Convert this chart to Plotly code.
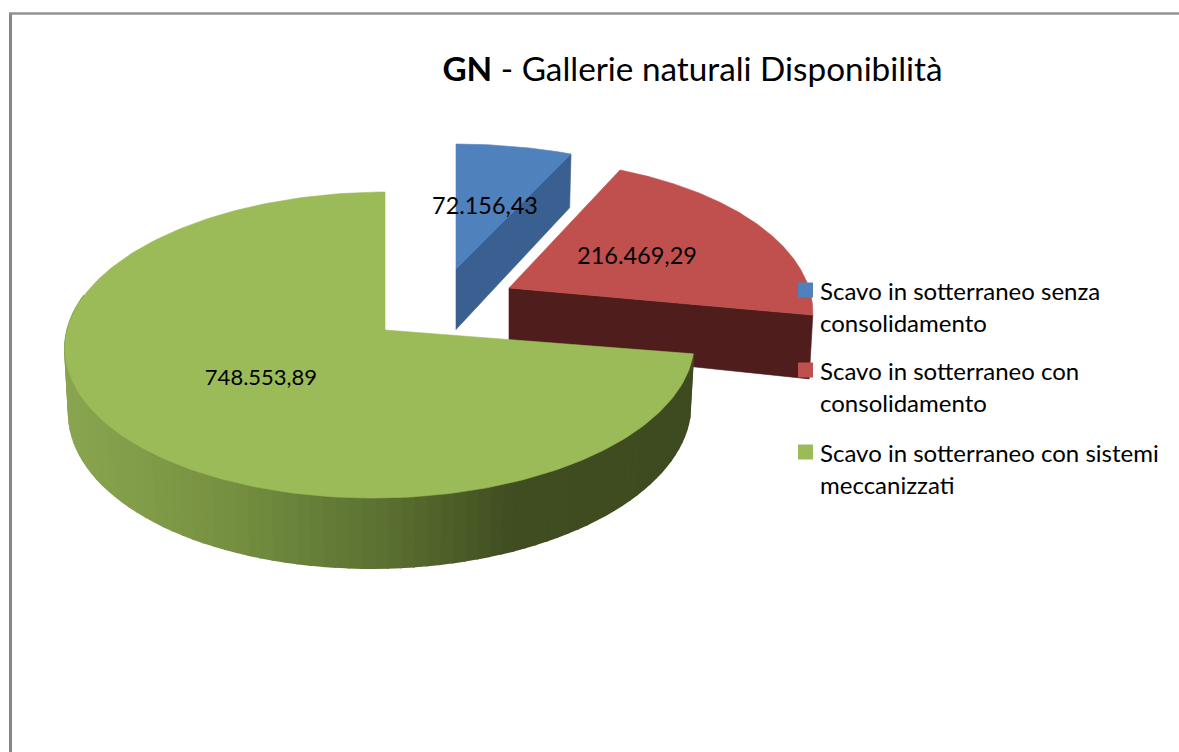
import numpy as np
import plotly.graph_objects as go

CATEGORIES = [
    ["Scavo in sotterraneo senza", "consolidamento"],
    ["Scavo in sotterraneo con", "consolidamento"],
    ["Scavo in sotterraneo con sistemi", "meccanizzati"],
]
VALUES = [72156.43, 216469.29, 748553.89]
TITLE_BOLD = "GN"
TITLE_REST = " - Gallerie naturali Disponibilità"

TOP_COLORS = ["#4f81bd", "#c0504d", "#9bbb59"]
SIDE_COLORS = ["#3a6092", "#4f1d1c", "#4f6128"]
FONT = "Lato"

# Projection of each exploded slice: apex position, radii, perspective, wall height
GEOM = [
    dict(cx=456, cy=269, a=319, k=149, p=0.192, r=0.0, m=0, h=63),
    dict(cx=509, cy=288, a=300, k=149, p=0.159, r=0.0, m=0, h=62),
    dict(cx=385, cy=330, a=313, k=151.5, p=0.098, r=0.017, m=3, h=63),
]
LABEL_POS = [(485, 208), (637, 258), (261, 379)]
LABEL_SIZE = [23.4, 23.5, 22]
LEGEND_X, LEGEND_Y = 805.5, [290, 370, 452]


def project(g, theta, drop=0.0):
    """theta: radians clockwise from 12 o'clock; drop: fraction of the wall height."""
    s, c = np.sin(theta), np.cos(theta)
    w = 1 + g["p"] * c + g["r"] * s
    x = g["cx"] + g["a"] * s / w
    y = g["cy"] - (g["k"] * c + g["m"] * s) / w
    wall = g["h"] / w
    x = g["cx"] + (x - g["cx"]) * (1 - 0.012 * drop)
    return x, y + wall * drop


def apex(g, drop=0.0):
    return g["cx"], g["cy"] + g["h"] * drop * 0.96


def poly(xs, ys, color, width=0.6):
    return go.Scatter(x=list(xs), y=list(ys), mode="lines", fill="toself", fillcolor=color,
                      line=dict(color=color, width=width), hoverinfo="skip", showlegend=False)


def fmt(v):
    return f"{v:,.2f}".replace(",", "#").replace(".", ",").replace("#", ".")


def shade(x):
    stops_x = [66, 140, 230, 300, 380, 450, 510, 700]
    stops = [(0x8a, 0xa5, 0x50), (0x82, 0x9d, 0x49), (0x76, 0x90, 0x41), (0x69, 0x82, 0x3a),
             (0x5c, 0x71, 0x32), (0x4e, 0x60, 0x29), (0x40, 0x4e, 0x21), (0x3e, 0x4b, 0x20)]
    rgb = [int(np.interp(x, stops_x, [st[i] for st in stops])) for i in range(3)]
    return f"rgb({rgb[0]},{rgb[1]},{rgb[2]})"


fractions = np.array(VALUES) / sum(VALUES)
edges = np.concatenate([[0], np.cumsum(fractions)]) * 2 * np.pi

fig = go.Figure()

for i in [0, 1, 2]:
    g = GEOM[i]
    t0, t1 = edges[i], edges[i + 1]
    th = np.linspace(t0, t1, 240)

    if i < 2:
        # cut face running from the apex out to the clockwise end of the slice
        ax0, ay0 = apex(g)
        ax1, ay1 = apex(g, 1)
        ex0, ey0 = project(g, t1)
        ex1, ey1 = project(g, t1, 1)
        fig.add_trace(poly([ax0, ex0, ex1, ax1, ax0], [ay0, ey0, ey1, ay1, ay0], SIDE_COLORS[i]))
    else:
        # outer wall of the large slice with its left-to-right shading
        seg = np.linspace(np.pi / 2, 3 * np.pi / 2 + 0.25, 90)
        seg = seg[(seg >= t0) & (seg <= t1)]
        seg = np.concatenate([[t0], seg])
        # painted from right to left so that each band overlaps the previous one
        for a0, a1 in zip(seg[:-1], seg[1:]):
            xa, ya = project(g, a0)
            xb, yb = project(g, a1)
            xc, yc = project(g, a1, 1)
            xd, yd = project(g, a0, 1)
            fig.add_trace(poly([xa, xb, xc, xd, xa], [ya, yb, yc, yd, ya], shade((xa + xb) / 2), width=2))

    xs, ys = project(g, th)
    ax0, ay0 = apex(g)
    fig.add_trace(poly(np.r_[ax0, xs, ax0], np.r_[ay0, ys, ay0], TOP_COLORS[i]))

# data labels
fig.add_trace(go.Scatter(
    x=[p[0] for p in LABEL_POS], y=[p[1] for p in LABEL_POS], mode="text",
    text=[fmt(v) for v in VALUES], textposition="middle center",
    textfont=dict(family=FONT, size=LABEL_SIZE, color="#000000"),
    hoverinfo="skip", showlegend=False))

# legend swatches
for i, name in enumerate(CATEGORIES):
    fig.add_trace(go.Scatter(x=[LEGEND_X], y=[LEGEND_Y[i]], mode="markers", name=" ".join(name),
                             marker=dict(symbol="square", size=15, color=TOP_COLORS[i], line=dict(width=0)),
                             hoverinfo="name", showlegend=False))

annotations = []
for i, lines in enumerate(CATEGORIES):
    for j, line in enumerate(lines):
        annotations.append(dict(x=818, y=LEGEND_Y[i] + 32 * j, xref="x", yref="y", text=line,
                                showarrow=False, xanchor="left", yanchor="middle",
                                font=dict(family=FONT, size=24, color="#000000")))

fig.update_layout(
    width=1179, height=752, margin=dict(l=0, r=0, t=0, b=0),
    paper_bgcolor="#ffffff", plot_bgcolor="#ffffff",
    title=dict(text=f"<b>{TITLE_BOLD}</b>{TITLE_REST}", x=692.5 / 1179, y=1 - 69 / 752,
               xanchor="center", yanchor="middle",
               font=dict(family=FONT, size=33.3, color="#000000")),
    xaxis=dict(range=[0, 1179], visible=False, fixedrange=True),
    yaxis=dict(range=[752, 0], visible=False, fixedrange=True),
    annotations=annotations,
    shapes=[
        dict(type="line", x0=10.5, x1=10.5, y0=13, y1=752, line=dict(color="#868686", width=3)),
        dict(type="line", x0=9, x1=1179, y0=13.5, y1=13.5, line=dict(color="#929292", width=2.5)),
    ],
)

fig.write_html("out.html", config=dict(displayModeBar=False),
               post_script="document.body.style.margin='0';")
